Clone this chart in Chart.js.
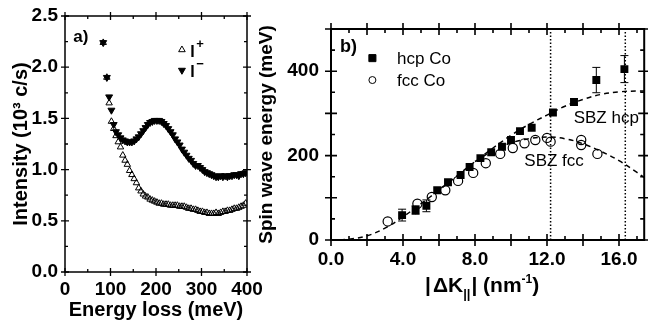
<!DOCTYPE html>
<html>
<head>
<meta charset="utf-8">
<script src="https://cdn.jsdelivr.net/npm/chart.js@4.4.0/dist/chart.umd.min.js"></script>
<style>
  html, body { margin: 0; padding: 0; background: #fff; overflow: hidden; }
  #wrap { position: relative; width: 648px; height: 322px; }
  #chartA { position: absolute; left: 0; top: 0; }
  #chartB { position: absolute; left: 250px; top: 0; }
</style>
</head>
<body>
<div id="wrap">
  <canvas id="chartA" width="275" height="322"></canvas>
  <canvas id="chartB" width="400" height="322"></canvas>
</div>
<script>
// ---- panel a) : loss spectra
const lossEnergy = [84, 92, 97,
  102, 107, 112, 117, 122, 127, 132, 137, 142, 147,
  152, 157, 162, 167, 172, 177, 182, 187, 192, 197,
  202, 207, 212, 217, 222, 227, 232, 237, 242, 247,
  252, 257, 262, 267, 272, 277, 282, 287, 292, 297,
  302, 307, 312, 317, 322, 327, 332, 337, 342, 347,
  352, 357, 362, 367, 372, 377, 382, 387, 392, 397];
const intensityPlus = [2.24, 1.90, 1.65,
  1.47, 1.40, 1.33, 1.27, 1.22, 1.14, 1.09, 1.05, 0.99, 0.95,
  0.91, 0.87, 0.82, 0.79, 0.76, 0.74, 0.73, 0.71, 0.70, 0.69,
  0.68, 0.67, 0.67, 0.66, 0.66, 0.66, 0.65, 0.65, 0.65, 0.65,
  0.64, 0.64, 0.64, 0.63, 0.62, 0.62, 0.61, 0.61, 0.60, 0.59,
  0.59, 0.58, 0.58, 0.57, 0.57, 0.57, 0.58, 0.57, 0.58, 0.59,
  0.59, 0.60, 0.60, 0.61, 0.62, 0.62, 0.63, 0.64, 0.65, 0.67];
const intensityMinus = [2.24, 1.90, 1.71,
  1.58, 1.44, 1.37, 1.34, 1.31, 1.29, 1.28, 1.27, 1.27, 1.27,
  1.28, 1.30, 1.32, 1.35, 1.38, 1.41, 1.44, 1.46, 1.47, 1.48,
  1.48, 1.48, 1.47, 1.45, 1.43, 1.40, 1.37, 1.34, 1.30, 1.27,
  1.24, 1.20, 1.17, 1.14, 1.11, 1.09, 1.06, 1.04, 1.04, 1.02,
  1.00, 0.98, 0.97, 0.96, 0.95, 0.94, 0.93, 0.93, 0.94, 0.93,
  0.94, 0.93, 0.94, 0.94, 0.95, 0.95, 0.94, 0.96, 0.96, 0.97];
const lossTickStep = 50, lossLabelStep = 100;
const intensityTickStep = 0.25, intensityLabelStep = 0.5;

// ---- panel b) : spin wave dispersion
const hcpK   = [3.95, 4.7, 5.3, 5.9, 6.5, 7.2, 7.7, 8.3, 8.9, 9.5, 10.0, 10.5, 11.15, 12.33, 13.5, 14.74, 16.3];
const hcpE   = [59, 71, 81, 118, 137, 154, 173, 194, 208, 221, 237, 258, 266, 302, 327, 379, 405];
const hcpErr = [14, 10, 14, 0, 0, 0, 0, 0, 0, 0, 0, 0, 0, 0, 8, 30, 32];
const fccK = [3.15, 4.8, 5.6, 6.35, 7.06, 7.9, 8.6, 9.4, 10.1, 10.75, 11.35, 12.0, 12.2, 13.9, 13.9, 14.8];
const fccE = [44, 86, 102, 118, 140, 159, 182, 204, 218, 229, 237, 242, 233, 237, 225, 204];
const curveK   = [0, 1, 2, 3, 4, 5, 6, 7, 8, 9, 10, 11, 12, 13, 14, 15, 16, 17, 17.4];
const hcpCurve = [0, 2, 10, 28, 55, 86, 118, 152, 186, 218, 248, 274, 296, 317, 333, 345, 351, 353, 353];
const fccCurveK = [8, 9, 10, 11, 12, 13, 14, 15, 16, 17, 17.4];
const fccCurve  = [186, 212, 230, 240, 244, 240, 228, 210, 188, 160, 148];
const sbzK = [12.2, 16.35];
const kTickStep = 1, kMajorStep = 2, kLabelStep = 4;
const energyTickStep = 50, energyMajorStep = 100, energyLabelStep = 200;

const FONT = '"Liberation Sans", Arial, Helvetica, sans-serif';
const toXY = (xs, ys) => xs.map((x, i) => ({ x: x, y: ys[i] }));
const onStep = (v, step) => Math.abs(v / step - Math.round(v / step)) < 1e-6;

// box round the plot with ticks crossing every side
const framePlugin = {
  id: 'frame',
  afterDraw(chart, args, o) {
    const { ctx, chartArea: a, scales } = chart;
    ctx.save();
    ctx.strokeStyle = '#000';
    ctx.lineWidth = o.width;
    ctx.strokeRect(a.left, a.top, a.right - a.left, a.bottom - a.top);
    ctx.lineWidth = o.tickWidth;
    ctx.beginPath();
    scales.x.ticks.forEach(t => {
      const px = scales.x.getPixelForValue(t.value);
      const major = onStep(t.value, o.xMajor);
      const inn = major ? o.majorIn : o.minorIn, out = major ? o.majorOut : 0;
      ctx.moveTo(px, a.bottom - inn); ctx.lineTo(px, a.bottom + out);
      ctx.moveTo(px, a.top - out); ctx.lineTo(px, a.top + inn);
    });
    scales.y.ticks.forEach(t => {
      const py = scales.y.getPixelForValue(t.value);
      const major = onStep(t.value, o.yMajor);
      const inn = major ? o.majorIn : o.minorIn, out = major ? o.majorOut : 0;
      ctx.moveTo(a.left - out, py); ctx.lineTo(a.left + inn, py);
      ctx.moveTo(a.right - inn, py); ctx.lineTo(a.right + out, py);
    });
    ctx.stroke();
    ctx.restore();
  }
};

function fixSize(prop, size) {
  return function (scale) {
    scale[prop] = size;
    scale.paddingLeft = 0; scale.paddingRight = 0;
    scale.paddingTop = 0; scale.paddingBottom = 0;
  };
}

// ---------- chart a
const notesA = {
  id: 'notesA',
  afterDraw(chart) {
    const { ctx, scales: { x, y } } = chart;
    ctx.save();
    ctx.fillStyle = '#000';
    ctx.strokeStyle = '#000';
    ctx.textBaseline = 'alphabetic';
    ctx.font = 'bold 17px ' + FONT;
    ctx.fillText('a)', x.getPixelForValue(18), y.getPixelForValue(2.25));

    const mx = x.getPixelForValue(257);
    ctx.fillStyle = '#fff';
    Chart.helpers.drawPoint(ctx, { pointStyle: 'triangle', radius: 3.8, rotation: 0, borderWidth: 1 }, mx, y.getPixelForValue(2.17));
    ctx.fillStyle = '#000';
    Chart.helpers.drawPoint(ctx, { pointStyle: 'triangle', radius: 4, rotation: 180, borderWidth: 1 }, mx, y.getPixelForValue(1.97));

    const tx = x.getPixelForValue(275);
    [['+', 2.1], ['\u2212', 1.9]].forEach(([sign, v]) => {
      const by = y.getPixelForValue(v);
      ctx.font = 'bold 16px ' + FONT;
      ctx.fillText('I', tx, by);
      ctx.font = 'bold 13px ' + FONT;
      ctx.fillText(sign, tx + 6, by - 9);
    });
    ctx.restore();
  }
};

new Chart(document.getElementById('chartA'), {
  type: 'scatter',
  data: {
    datasets: [
      {
        label: 'I+',
        data: toXY(lossEnergy, intensityPlus),
        pointStyle: 'triangle',
        pointRadius: 3.7,
        pointBorderWidth: 1,
        pointBorderColor: '#000',
        pointBackgroundColor: 'rgba(255,255,255,0)'
      },
      {
        label: 'I-',
        data: toXY(lossEnergy, intensityMinus),
        pointStyle: 'triangle',
        pointRotation: 180,
        pointRadius: 4,
        pointBorderWidth: 1,
        pointBorderColor: '#000',
        pointBackgroundColor: '#000'
      }
    ]
  },
  options: {
    responsive: false,
    animation: false,
    events: [],
    layout: { padding: { left: 0, top: 16, right: 28, bottom: 0 } },
    plugins: {
      legend: { display: false },
      tooltip: { enabled: false },
      frame: { width: 1.5, tickWidth: 1.3, xMajor: lossLabelStep, yMajor: intensityLabelStep,
               majorIn: 4, majorOut: 4, minorIn: 3 }
    },
    scales: {
      x: {
        type: 'linear', min: 0, max: 400,
        afterFit: fixSize('height', 50),
        grid: { display: false, drawTicks: false },
        border: { display: false },
        ticks: {
          stepSize: lossTickStep, autoSkip: false, maxRotation: 0, padding: 6,
          color: '#000', font: { family: FONT, size: 19, weight: 'bold' },
          callback: v => onStep(v, lossLabelStep) ? String(v) : ''
        },
        title: { display: true, text: 'Energy loss (meV)', color: '#000', padding: { top: 0, bottom: 0 },
                 font: { family: FONT, size: 20, weight: 'bold' } }
      },
      y: {
        type: 'linear', min: 0, max: 2.5,
        afterFit: fixSize('width', 65),
        grid: { display: false, drawTicks: false },
        border: { display: false },
        ticks: {
          stepSize: intensityTickStep, autoSkip: false, padding: 7,
          color: '#000', font: { family: FONT, size: 19, weight: 'bold' },
          callback: v => onStep(v, intensityLabelStep) ? v.toFixed(1) : ''
        },
        title: { display: true, text: 'Intensity (10\u00b3 c/s)', color: '#000', padding: { top: 9, bottom: 0 },
                 font: { family: FONT, size: 20, weight: 'bold' } }
      }
    }
  },
  plugins: [framePlugin, notesA]
});

// ---------- chart b
const notesB = {
  id: 'notesB',
  afterDatasetsDraw(chart) {
    const { ctx, scales: { x, y } } = chart;
    ctx.save();
    ctx.strokeStyle = '#000';
    ctx.lineWidth = 1;
    ctx.beginPath();
    hcpK.forEach((k, i) => {
      if (!hcpErr[i]) return;
      const px = x.getPixelForValue(k);
      const lo = y.getPixelForValue(hcpE[i] - hcpErr[i]);
      const hi = y.getPixelForValue(hcpE[i] + hcpErr[i]);
      ctx.moveTo(px, lo); ctx.lineTo(px, hi);
      ctx.moveTo(px - 4, lo); ctx.lineTo(px + 4, lo);
      ctx.moveTo(px - 4, hi); ctx.lineTo(px + 4, hi);
    });
    ctx.stroke();
    ctx.restore();
  },
  afterDraw(chart) {
    const { ctx, scales: { x, y } } = chart;
    ctx.save();
    ctx.fillStyle = '#000';
    ctx.strokeStyle = '#000';
    ctx.textBaseline = 'alphabetic';
    ctx.font = 'bold 18px ' + FONT;
    ctx.fillText('b)', x.getPixelForValue(0.5), y.getPixelForValue(445));

    // legend
    const mx = x.getPixelForValue(2.3);
    Chart.helpers.drawPoint(ctx, { pointStyle: 'rect', radius: 5, rotation: 0, borderWidth: 1 }, mx, y.getPixelForValue(431));
    ctx.fillStyle = '#fff';
    Chart.helpers.drawPoint(ctx, { pointStyle: 'circle', radius: 3.5, rotation: 0, borderWidth: 1 }, mx, y.getPixelForValue(379));
    ctx.fillStyle = '#000';
    ctx.font = '17px ' + FONT;
    ctx.fillText('hcp Co', x.getPixelForValue(3.67), y.getPixelForValue(416));
    ctx.fillText('fcc Co', x.getPixelForValue(3.67), y.getPixelForValue(366));
    ctx.fillText('SBZ hcp', x.getPixelForValue(13.48), y.getPixelForValue(277));
    ctx.fillText('SBZ fcc', x.getPixelForValue(10.74), y.getPixelForValue(175));

    // axis title |ΔK||| (nm-1)
    let px = 175;
    const base = 292;
    const part = (txt, size, dy, gap) => {
      ctx.font = 'bold ' + size + 'px ' + FONT;
      ctx.fillText(txt, px, base + dy);
      px += ctx.measureText(txt).width + gap;
    };
    part('|', 21, 0, 2);
    part('\u0394K', 21, 0, 0);
    part('||', 13, 6, 1);
    part('| (nm', 21, 0, 0);
    part('-1', 12, -9, 0);
    part(')', 21, 0, 0);
    ctx.restore();
  }
};

new Chart(document.getElementById('chartB'), {
  type: 'scatter',
  data: {
    datasets: [
      {
        label: 'hcp Co',
        data: toXY(hcpK, hcpE),
        pointStyle: 'rect',
        pointRadius: 5.6,
        pointBorderWidth: 0,
        pointBackgroundColor: '#000',
        order: 1
      },
      {
        label: 'fcc Co',
        data: toXY(fccK, fccE),
        pointStyle: 'circle',
        pointRadius: 4.6,
        pointBorderWidth: 1.2,
        pointBorderColor: '#000',
        pointBackgroundColor: 'rgba(255,255,255,0)',
        order: 0
      },
      {
        label: 'hcp fit',
        data: toXY(curveK, hcpCurve),
        showLine: true, pointRadius: 0, fill: false, tension: 0.4,
        borderColor: '#000', borderWidth: 1.5, borderDash: [5, 4],
        order: 2
      },
      {
        label: 'fcc fit',
        data: toXY(fccCurveK, fccCurve),
        showLine: true, pointRadius: 0, fill: false, tension: 0.4,
        borderColor: '#000', borderWidth: 1.5, borderDash: [5, 4],
        order: 2
      },
      {
        label: 'SBZ fcc',
        data: toXY([sbzK[0], sbzK[0]], [0, 500]),
        showLine: true, pointRadius: 0, fill: false,
        borderColor: '#000', borderWidth: 1.5, borderDash: [1.5, 2],
        order: 3
      },
      {
        label: 'SBZ hcp',
        data: toXY([sbzK[1], sbzK[1]], [0, 500]),
        showLine: true, pointRadius: 0, fill: false,
        borderColor: '#000', borderWidth: 1.5, borderDash: [1.5, 2],
        order: 3
      }
    ]
  },
  options: {
    responsive: false,
    animation: false,
    events: [],
    layout: { padding: { left: 0, top: 29, right: 1, bottom: 0 } },
    plugins: {
      legend: { display: false },
      tooltip: { enabled: false },
      frame: { width: 2, tickWidth: 1.6, xMajor: kMajorStep, yMajor: energyMajorStep,
               majorIn: 6, majorOut: 6, minorIn: 4 }
    },
    scales: {
      x: {
        type: 'linear', min: 0, max: 17.4,
        afterFit: fixSize('height', 82),
        grid: { display: false, drawTicks: false },
        border: { display: false },
        ticks: {
          stepSize: kTickStep, includeBounds: false, autoSkip: false, maxRotation: 0, padding: 8,
          color: '#000', font: { family: FONT, size: 19, weight: 'bold' },
          callback: v => onStep(v, kLabelStep) ? v.toFixed(1) : ''
        }
      },
      y: {
        type: 'linear', min: 0, max: 500,
        afterFit: fixSize('width', 81),
        grid: { display: false, drawTicks: false },
        border: { display: false },
        ticks: {
          stepSize: energyTickStep, autoSkip: false, padding: 12,
          color: '#000', font: { family: FONT, size: 19, weight: 'bold' },
          callback: v => onStep(v, energyLabelStep) ? String(v) : ''
        },
        title: { display: true, text: 'Spin wave energy (meV)', color: '#000', padding: { top: 5, bottom: 0 },
                 font: { family: FONT, size: 19, weight: 'bold' } }
      }
    }
  },
  plugins: [framePlugin, notesB]
});
</script>
</body>
</html>
